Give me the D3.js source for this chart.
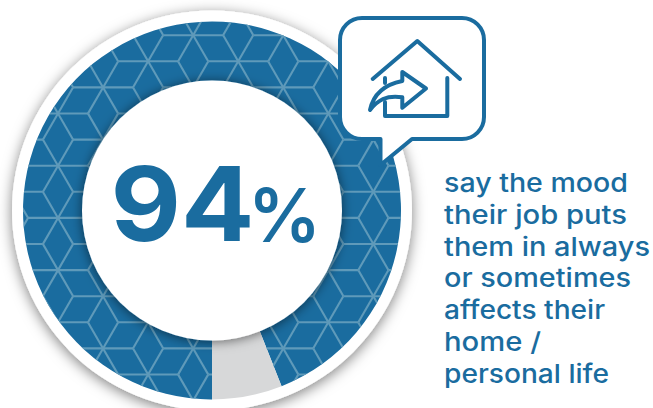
<!DOCTYPE html>
<html>
<head>
<meta charset="utf-8">
<script src="https://cdn.jsdelivr.net/npm/d3@7"></script>
<style>
  html, body { margin: 0; padding: 0; background: #fff; overflow: hidden; }
  svg { display: block; }
  text { font-family: Inter, "Open Sans", sans-serif; fill: #1a6c9f; }
</style>
</head>
<body>
<svg id="chart" width="653" height="408"></svg>
<script>
// Share of respondents
const shareLabels = ["affected", "not affected"];
const shareValues = [94, 6];
const captionLines = [
  "say the mood",
  "their job puts",
  "them in always",
  "or sometimes",
  "affects their",
  "home /",
  "personal life"
];

const BLUE = "#1a6c9f";
const GREY = "#d7d8d9";
const LINE = "#5f9aba";

const svg = d3.select("#chart");
const defs = svg.append("defs");
const cx = 212, cy = 210.5;
const rHalo = 200, rOuter = 189, rInner = 130;

function softShadow(id, dy, blur, opacity) {
  const f = defs.append("filter").attr("id", id)
    .attr("x", "-20%").attr("y", "-20%").attr("width", "140%").attr("height", "140%");
  f.append("feDropShadow")
    .attr("dx", 0).attr("dy", dy)
    .attr("stdDeviation", blur)
    .attr("flood-color", "#000")
    .attr("flood-opacity", opacity);
}
softShadow("haloShadow", 3, 7, 0.5);
softShadow("holeShadow", 1, 6, 0.55);

// White disc behind the ring
svg.append("circle")
  .attr("cx", cx).attr("cy", cy).attr("r", rHalo)
  .attr("fill", "#fff").attr("filter", "url(#haloShadow)");

// Donut: starts at six o'clock and runs clockwise
const pie = d3.pie().sort(null).startAngle(Math.PI).endAngle(3 * Math.PI);
const arc = d3.arc().innerRadius(rInner - 2).outerRadius(rOuter);
const slices = pie(shareValues);

defs.append("clipPath").attr("id", "bluePart")
  .append("path").attr("transform", `translate(${cx},${cy})`).attr("d", arc(slices[0]));

const ring = svg.append("g").attr("transform", `translate(${cx},${cy})`);
ring.selectAll("path")
  .data(slices)
  .join("path")
  .attr("d", arc)
  .attr("fill", (d, i) => i === 0 ? BLUE : GREY)
  .append("title").text((d, i) => `${shareLabels[i]}: ${shareValues[i]}%`);

// Rhombille texture clipped to the blue slice: six spokes from each lattice node
const edge = 30, stepX = 45.05, stepY = 26.1;
const originX = 58, originY = 113.5;
const pattern = svg.append("g")
  .attr("clip-path", "url(#bluePart)")
  .append("g")
  .attr("stroke", LINE).attr("stroke-width", 2.1).attr("fill", "none");
const spokes = d3.range(6).map(k => k * Math.PI / 3);
const nodes = [];
for (let col = -2; col <= 9; col++) {
  for (let row = -6; row <= 8; row++) {
    nodes.push([originX + col * stepX, originY + col * stepY + row * 2 * stepY]);
  }
}
pattern.selectAll("line.spoke")
  .data(nodes.flatMap(n => spokes.map(a => [n, a])))
  .join("line")
  .attr("class", "spoke")
  .attr("x1", d => d[0][0])
  .attr("y1", d => d[0][1])
  .attr("x2", d => d[0][0] + edge * Math.cos(d[1]))
  .attr("y2", d => d[0][1] + edge * Math.sin(d[1]));

// Centre disc
svg.append("circle")
  .attr("cx", cx).attr("cy", cy).attr("r", rInner)
  .attr("fill", "#fff").attr("filter", "url(#holeShadow)");

// Headline figure
svg.append("text")
  .attr("x", 110.5).attr("y", 241)
  .attr("font-size", 103).attr("font-weight", 700)
  .attr("textLength", 144).attr("lengthAdjust", "spacingAndGlyphs")
  .text(shareValues[0]);
svg.append("text")
  .attr("x", 248).attr("y", 242)
  .attr("font-size", 74).attr("font-weight", 600)
  .attr("textLength", 73).attr("lengthAdjust", "spacingAndGlyphs")
  .text("%");

// Speech bubble
svg.append("path")
  .attr("fill", "#fff").attr("stroke", BLUE).attr("stroke-width", 4).attr("stroke-linejoin", "round")
  .attr("d", "M362,18 H462 A22,22 0 0 1 484,40 V117 A22,22 0 0 1 462,139 H412 L380.5,165 V139 H362 A22,22 0 0 1 340,117 V40 A22,22 0 0 1 362,18 Z");

// House with arrow icon
const icon = svg.append("g")
  .attr("fill", "none").attr("stroke", BLUE).attr("stroke-width", 4)
  .attr("stroke-linecap", "round").attr("stroke-linejoin", "round");
icon.append("path").attr("d", "M372.7,79 L417.3,41 L460,79");
icon.append("path").attr("d", "M447.3,78 V116 H385 V102");
icon.append("path").attr("d", "M385,78 V83");
icon.append("path").attr("d", "M402.3,81 V72 L426,88.5 L402.3,107.7 V97.3 C386,95 378,100 370,110 C373,96 382,85 402.3,81 Z");

// Caption, each line fitted to its measured run
const captionWidths = [184, 183, 206, 187, 161, 97, 165];
svg.append("g").selectAll("text")
  .data(captionLines)
  .join("text")
  .attr("x", 444)
  .attr("y", (d, i) => 192 + i * 31.8)
  .attr("font-size", 26)
  .attr("font-weight", 500)
  .attr("textLength", (d, i) => captionWidths[i])
  .attr("lengthAdjust", "spacingAndGlyphs")
  .text(d => d);
</script>
</body>
</html>
